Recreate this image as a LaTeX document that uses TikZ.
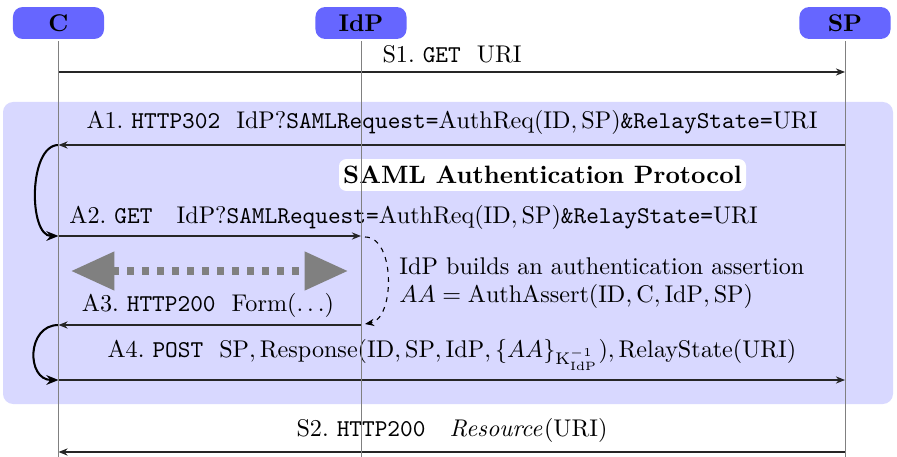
\documentclass[tikz,border=0pt]{standalone}
\usetikzlibrary{arrows.meta}
\definecolor{actorblue}{HTML}{6666FF}
\definecolor{bgblue}{HTML}{D8D8FF}
\begin{document}
\begin{tikzpicture}[x=0.414pt,y=-0.414pt,
  actor/.style={rounded corners=4pt,fill=actorblue,minimum width=37.7pt,minimum height=13.2pt,inner sep=0pt,font=\bfseries},
  lifeline/.style={draw=gray,line width=0.4pt},
  msg/.style={draw=black!85,line width=0.45pt,-{Stealth[length=3.8pt,width=3pt]}},
  loopback/.style={draw=black,line width=0.85pt,-{Stealth[length=5pt,width=4pt]}},
  lbl/.style={inner sep=0pt,anchor=base}]
\useasboundingbox (0,0) rectangle (897,457);
% background
\fill[bgblue,rounded corners=4.2pt] (3,102) rectangle (893,404);
% actors
\node[actor] (C) at (58.5,23) {C};
\node[actor] (IdP) at (361,23) {IdP};
\node[actor] (SP) at (845,23) {SP};
% coordinates on lifelines
\coordinate (Cend) at (58.5,457);
\coordinate (Iend) at (361,457);
\coordinate (Send) at (845,457);
\foreach \n/\y in {1/72,2/145,3/236,4/325,5/380,6/452}{
  \coordinate (C\n) at (58.5,\y);
  \coordinate (I\n) at (361,\y);
  \coordinate (S\n) at (845,\y);
}
\coordinate (dstart) at (365,237);
\coordinate (dend) at (365,324);
% title
\node[fill=white,rounded corners=3pt,inner xsep=0pt,inner ysep=0pt,minimum width=168.5pt,minimum height=13.2pt,font=\bfseries\fontsize{10.4}{12}\selectfont] (title) at (542.5,175) {SAML Authentication Protocol};
% S1
\draw[msg] (C1) -- (S1);
\node[lbl] (s1l) at (452,63) {S1.~\texttt{GET}~~URI};
% A1
\draw[msg] (S2) -- (C2);
\node[lbl] (a1l) at (452,129) {A1.~\texttt{HTTP302}~~IdP?\texttt{SAMLRequest=}$\mathrm{AuthReq}(\mathrm{ID},\mathrm{SP})$\texttt{\&RelayState=}URI};
\draw[loopback] (C2) to[out=180,in=180,looseness=0.85] (C3);
% A2
\draw[msg] (C3) -- (I3);
\node[lbl,anchor=base west] (a2l) at (69,223) {A2.~\texttt{GET}~~~IdP?\texttt{SAMLRequest=}$\mathrm{AuthReq}(\mathrm{ID},\mathrm{SP})$\texttt{\&RelayState=}URI};
% dashed processing
\draw[draw=black,line width=0.45pt,dash pattern=on 2pt off 2.2pt,-{Stealth[length=3.8pt,width=3pt]}] (dstart) to[out=0,in=10,looseness=0.9] (dend);
% gray double arrow
\coordinate (ga) at (71,271);
\coordinate (gb) at (348,271);
\draw[gray,line width=3.3pt,dash pattern=on 2.9pt off 3.3pt,{Triangle[length=18pt,width=15.3pt]}-{Triangle[length=18pt,width=15.3pt]}] (ga) -- (gb);
\node[inner sep=0pt,anchor=base west,align=left] (build) at (399,303) {IdP builds an authentication assertion\\$AA=\mathrm{AuthAssert}(\mathrm{ID},\mathrm{C},\mathrm{IdP},\mathrm{SP})$};
% A3
\draw[msg] (I4) -- (C4);
\node[lbl] (a3l) at (208,311) {A3.~\texttt{HTTP200}~~Form$(\ldots)$};
\draw[loopback] (C4) to[out=180,in=180,looseness=1.5] (C5);
% A4
\draw[msg] (C5) -- (S5);
\node[lbl] (a4l) at (452,357) {A4.~\texttt{POST}~~$\mathrm{SP},\mathrm{Response}(\mathrm{ID},\mathrm{SP},\mathrm{IdP},\{AA\}_{\mathrm{K}^{-1}_{\mathrm{IdP}}}),\mathrm{RelayState}(\mathrm{URI})$};
% S2
\draw[msg] (S6) -- (C6);
\node[lbl] (s2l) at (452,436) {S2.~\texttt{HTTP200}~~~$\mathit{Resource}(\mathrm{URI})$};
% lifelines
\draw[lifeline] (C.south) ++(0,2) -- (Cend);
\draw[lifeline] (IdP.south) ++(0,2) -- (Iend);
\draw[lifeline] (SP.south) ++(0,2) -- (Send);
\end{tikzpicture}
\end{document}
